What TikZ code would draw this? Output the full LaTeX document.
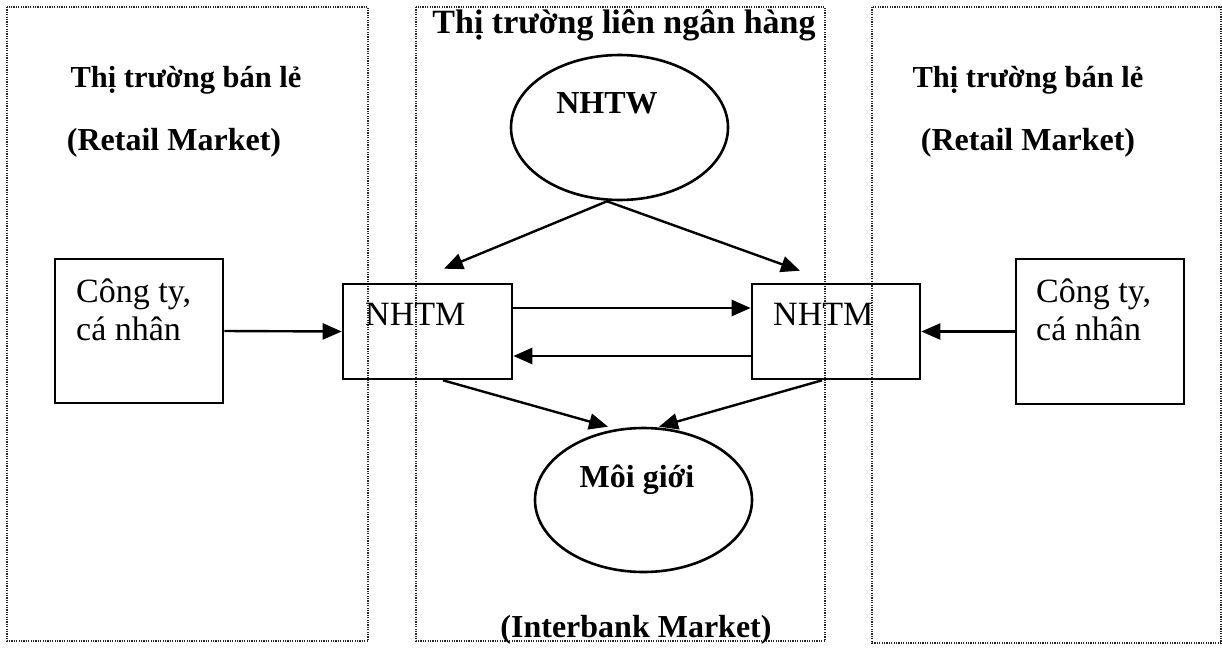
\documentclass[tikz,border=0pt]{standalone}
\usepackage{fontspec}
\setmainfont{Liberation Serif}
\usetikzlibrary{arrows.meta,shapes.geometric,calc}
\begin{document}
\begin{tikzpicture}[x=1pt,y=-1pt,
 frame/.style={draw=black!85,line width=1.2pt,dash pattern=on 1.2pt off 1.2pt},
 box/.style={draw,line width=2.6pt,rectangle,inner sep=0pt},
 oval/.style={draw,line width=2.6pt,ellipse,inner sep=0pt},
 arr/.style={line width=2.4pt,-{Triangle[length=19pt,width=16pt]}},
 ttl/.style={font=\fontsize{32}{38}\selectfont\bfseries,anchor=base,inner sep=0pt},
 txt/.style={font=\fontsize{34}{40}\selectfont,anchor=base west,inner sep=0pt}]
\useasboundingbox (0,0) rectangle (1222,648);
% market frames
\draw[frame] (7,7) rectangle (368,641);
\draw[frame] (416,7) rectangle (825,641);
\draw[frame] (872,7) rectangle (1221,643);
% titles
\node[ttl] (tL1) at (186,87) {\fontsize{30.5}{36}\selectfont Thị trường bán lẻ};
\node[ttl] (tL2) at (174,150) {(Retail Market)};
\node[ttl] (tR1) at (1028,87) {\fontsize{30.5}{36}\selectfont Thị trường bán lẻ};
\node[ttl] (tR2) at (1028,150) {(Retail Market)};
\node[ttl] (tM) at (624,33) {\fontsize{34}{40}\selectfont Thị trường liên ngân hàng};
\node[ttl] (tB) at (636,637) {(Interbank Market)};
% shapes
\node[oval,minimum width=217pt,minimum height=145pt] (nhtw) at (619.5,127.5) {};
\node[oval,minimum width=217pt,minimum height=144pt] (moi) at (643.5,500) {};
\node[box,minimum width=168pt,minimum height=144pt] (cL) at (139,331) {};
\node[box,minimum width=168pt,minimum height=145pt] (cR) at (1100,331.5) {};
\node[box,minimum width=169pt,minimum height=95pt] (nhtmL) at (427.5,331.5) {};
\node[box,minimum width=168pt,minimum height=95pt] (nhtmR) at (836,331.5) {};
% texts
\node[ttl] (nhtwT) at (607,113) {NHTW};
\node[ttl] (moiT) at (637,487) {Môi giới};
\node[txt] (cL1) at (76,302) {Công ty,};
\node[txt] (cL2) at (76,340) {cá nhân};
\node[txt] (cR1) at (1036,302) {Công ty,};
\node[txt] (cR2) at (1036,340) {cá nhân};
\node[txt] (nLT) at (365,325) {NHTM};
\node[txt] (nRT) at (773,325) {NHTM};
% connectors
\draw[arr] ($(nhtw.south)+(-12.5,0)$) -- ($(nhtmL.north)+(16.5,-14)$);
\draw[arr] ($(nhtw.south)+(-12.5,0)$) -- ($(nhtmR.north)+(-36,-12)$);
\draw[arr] ($(nhtmL.east)+(0,-23.5)$) -- ($(nhtmR.west)+(0,-23.5)$);
\draw[arr] ($(nhtmR.west)+(0,24.5)$) -- ($(nhtmL.east)+(0,24.5)$);
\draw[arr] (cL.east) -- (nhtmL.west);
\draw[arr] (cR.west) -- (nhtmR.east);
\draw[arr] ($(nhtmL.south)+(15.5,0)$) -- ($(moi.north)+(-35.5,0)$);
\draw[arr] ($(nhtmR.south)+(-14,0)$) -- ($(moi.north)+(15.5,0)$);
\end{tikzpicture}
\end{document}
